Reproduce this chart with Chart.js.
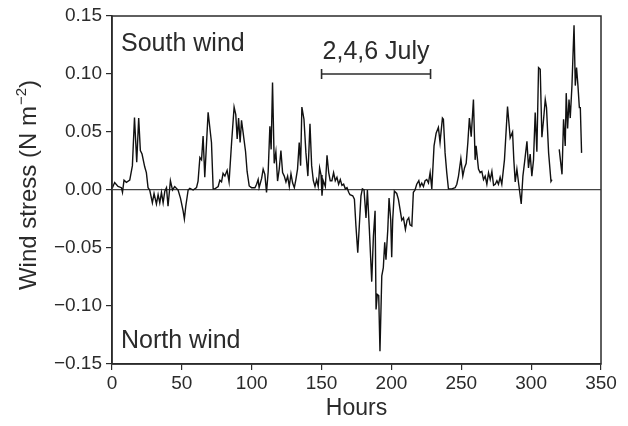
<!DOCTYPE html>
<html lang="en">
<head>
  <meta charset="UTF-8">
  <title>Wind stress</title>
  <script src="https://cdn.jsdelivr.net/npm/chart.js"></script>
  <style>
    body { margin: 0; background: #fff; }
    canvas { display: block; }
  </style>
</head>
<body>
<canvas id="grafica" width="628" height="426"></canvas>
<script>
// horas y tension del viento (N m-2); null = hueco
const horas = [
  0.3, 1.9, 4.3, 6.7, 7.5, 8.6, 10.3, 12.7, 14.6, 16.1, 17.7, 19.1, 20.3, 21.5, 23.4, 24.6, 25.8, 27.0,
  28.9, 30.1, 31.8, 33.0, 34.2, 35.4, 36.6, 37.8, 39.0, 40.1, 41.8, 43.3, 44.9, 47.3, 49.0, 50.9, 51.8, 52.8,
  54.5, 55.7, 58.1, 60.5, 61.6, 62.9, 64.1, 65.2, 66.4, 68.8, 71.2, 72.4, 73.6, 76.0, 77.2, 78.4, 79.5, 80.8,
  82.4, 83.8, 85.6, 87.4, 88.6, 89.6, 90.6, 91.7, 92.7, 93.9, 95.6, 96.7, 98.2, 99.9, 102.3, 103.5, 104.6,
  105.3, 107.1, 108.2, 109.4, 110.6, 111.8, 113.0, 113.9, 114.9, 116.1, 117.3, 118.5, 119.7, 120.9, 122.1,
  123.3, 124.5, 125.7, 126.9, 128.1, 129.3, 130.5, 131.6, 132.8, 134.0, 135.0, 135.9, 137.4, 138.8, 140.2,
  141.7, 142.9, 144.1, 145.3, 146.5, 147.6, 148.6, 149.6, 150.3, 151.2, 152.7, 153.9, 155.1, 156.2, 157.4,
  158.6, 159.8, 161.0, 162.2, 163.4, 164.6, 165.8, 167.0, 168.2, 169.4, 170.3, 172.3, 173.5, 174.6, 175.9,
  177.0, 178.2, 179.2, 180.4, 181.8, 182.8, 184.2, 185.9, 187.1, 188.3, 189.0, 189.9, 190.9, 191.8, 193.1,
  194.2, 195.2, 196.1, 197.4, 198.3, 199.5, 200.2, 200.9, 202.1, 203.8, 205.0, 206.2, 207.4, 208.6, 210.0,
  211.2, 212.4, 213.3, 214.6, 215.7, 216.9, 218.1, 219.6, 220.5, 221.7, 222.9, 224.1, 225.3, 226.5, 227.7,
  228.9, 230.5, 232.0, 233.6, 234.8, 236.5, 237.2, 238.4, 239.6, 240.8, 243.2, 245.6, 246.8, 248.0, 249.7,
  251.1, 252.3, 253.5, 254.7, 255.8, 257.1, 258.7, 259.9, 260.6, 262.3, 263.5, 264.7, 265.9, 267.1, 268.3,
  269.5, 270.7, 271.9, 273.1, 274.3, 275.5, 276.6, 277.8, 279.0, 280.9, 283.1, 285.0, 286.7, 287.6, 288.6,
  289.8, 291.0, 292.9, 294.1, 295.3, 297.0, 298.1, 299.3, 300.5, 301.7, 302.9, 304.1, 305.3, 306.5, 307.7,
  308.9, 310.1, 311.0, 312.5, 314.2, 314.9, 317.5, 320.1, 322.1, 323.2, 324.4, 325.1, 326.1, 327.1, 328.0,
  329.2, 330.7, 331.6, 332.5, 333.5, 334.5, 335.2, 336.1
];
const tension = [
  0.002, 0.0064, 0.003, 0.002, -0.002, 0.0085, 0.0066, 0.0085, 0.021, 0.0625, 0.024, 0.062, 0.034, 0.031, 0.02, 0.015, 0.002, 0.0,
  -0.011, -0.003, -0.012, -0.004, -0.011, -0.002, -0.011, -0.001, 0.002, -0.014, 0.008, 0.0, 0.003, 0.0, -0.007, -0.018, -0.025, -0.014,
  0.0, 0.0015, 0.0, 0.002, 0.0077, 0.028, 0.026, 0.0465, 0.011, 0.067, 0.041, 0.001, 0.001, 0.003, 0.0085, 0.007, 0.0143, 0.012,
  0.017, 0.007, 0.041, 0.0715, 0.065, 0.044, 0.062, 0.041, 0.06, 0.049, 0.033, 0.016, 0.0035, 0.002, 0.002, 0.005, 0.009,
  0.002, 0.01, 0.018, 0.0135, -0.002, 0.016, 0.055, 0.035, 0.0927, 0.023, 0.033, 0.0077, 0.018, 0.034, 0.015,
  0.012, 0.007, 0.012, 0.003, 0.014, 0.006, 0.002, 0.009, 0.018, 0.041, 0.021, 0.0715, 0.061, 0.032, 0.012,
  0.057, 0.021, 0.008, 0.003, 0.009, 0.003, 0.019, 0.013, -0.005, 0.008, 0.003, 0.03, 0.015, 0.008, 0.008,
  0.015, 0.008, 0.011, 0.005, 0.009, 0.004, 0.005, 0.001, 0.002, -0.002, -0.004, -0.005, -0.008, -0.031, -0.054,
  -0.031, -0.005, 0.001, 0.0, -0.024, 0.0, -0.034, -0.079, -0.04, -0.018, -0.103, -0.090, -0.091, -0.139, -0.074,
  -0.067, -0.045, -0.06, -0.034, -0.007, -0.026, -0.058, -0.026, -0.001, -0.003, -0.008, -0.017, -0.026, -0.024, -0.034,
  -0.026, -0.024, -0.03, -0.031, -0.002, 0.0, 0.005, 0.008, 0.003, 0.006, 0.003, 0.008, 0.009, 0.006, 0.015,
  0.001, 0.038, 0.049, 0.054, 0.041, 0.062, 0.061, 0.032, 0.015, 0.001, 0.001, 0.002, 0.005, 0.012, 0.027,
  0.012, 0.019, 0.023, 0.041, 0.062, 0.046, 0.078, 0.026, 0.038, 0.018, 0.015, 0.016, 0.009, 0.012, 0.005,
  0.015, 0.009, 0.016, 0.004, 0.005, 0.008, 0.005, 0.011, 0.005, 0.026, 0.072, 0.045, 0.05, 0.026, 0.007,
  0.018, 0.006, -0.012, 0.012, 0.024, 0.042, 0.019, 0.031, 0.012, 0.026, 0.0667, 0.033, 0.1055, 0.104, 0.0455,
  0.061, 0.078, 0.071, 0.032, 0.0075, 0.009, null, 0.035, 0.0135, 0.061, 0.038, 0.0835, 0.053, 0.078, 0.062,
  0.0897, 0.142, 0.09, 0.1055, 0.09, 0.071, 0.071, 0.032
];
// barra "2,4,6 July"
const julioHoras = [150, 228];
const julioValor = [0.1, 0.1];

const ticksX = [0, 50, 100, 150, 200, 250, 300, 350];
const ticksY = [-0.15, -0.10, -0.05, 0, 0.05, 0.10, 0.15];

const fuente = "'Liberation Sans', Arial, Helvetica, sans-serif";
const gris = '#2b2b2b';

const serie = horas.map((h, i) => ({ x: h, y: tension[i] }));
const barra = julioHoras.map((h, i) => ({ x: h, y: julioValor[i] }));

const etiquetas = {
  id: 'etiquetas',
  afterDraw(chart) {
    const { ctx, chartArea: a, scales } = chart;
    ctx.save();
    // marco completo
    ctx.strokeStyle = gris;
    ctx.lineWidth = 1.5;
    ctx.strokeRect(a.left, a.top, a.right - a.left, a.bottom - a.top);
    ctx.fillStyle = gris;
    ctx.font = '25px ' + fuente;
    ctx.textAlign = 'left';
    ctx.textBaseline = 'alphabetic';
    ctx.fillText('South wind', a.left + 9, a.top + 35);
    ctx.fillText('North wind', a.left + 9, a.bottom - 16);
    ctx.textAlign = 'center';
    const xm = scales.x.getPixelForValue((julioHoras[0] + julioHoras[1]) / 2);
    ctx.fillText('2,4,6 July', xm, scales.y.getPixelForValue(julioValor[0]) - 15);

    // titulo del eje y con superindice
    const grande = '24px ' + fuente, chico = '15px ' + fuente;
    const p1 = 'Wind stress (N m', sup = '\u22122', p3 = ')';
    ctx.font = grande; const w1 = ctx.measureText(p1).width, w3 = ctx.measureText(p3).width;
    ctx.font = chico; const w2 = ctx.measureText(sup).width;
    const total = w1 + w2 + w3 + 1;
    ctx.translate(36, (a.top + a.bottom) / 2 - 5);
    ctx.rotate(-Math.PI / 2);
    ctx.textAlign = 'left';
    let x = -total / 2;
    ctx.font = grande; ctx.fillText(p1, x, 0); x += w1 + 1;
    ctx.font = chico; ctx.fillText(sup, x, -10); x += w2;
    ctx.font = grande; ctx.fillText(p3, x, 0);
    ctx.restore();
  }
};

new Chart(document.getElementById('grafica'), {
  type: 'line',
  data: {
    datasets: [
      {
        data: serie,
        borderColor: '#111',
        borderWidth: 1.4,
        pointRadius: 0,
        tension: 0,
        spanGaps: false
      },
      {
        data: barra,
        borderColor: gris,
        borderWidth: 1.6,
        pointStyle: 'line',
        rotation: 90,
        pointRadius: 5,
        pointBorderWidth: 1.6,
        pointBorderColor: gris
      }
    ]
  },
  options: {
    responsive: false,
    animation: false,
    events: [],
    layout: { padding: { top: 16, right: 27, left: 0, bottom: 0 } },
    plugins: { legend: { display: false }, tooltip: { enabled: false } },
    scales: {
      x: {
        type: 'linear',
        min: 0, max: 350,
        afterBuildTicks: s => { s.ticks = ticksX.map(v => ({ value: v })); },
        afterFit: s => { s.height = 62; },
        border: { color: gris, width: 1.5 },
        grid: { drawOnChartArea: false, color: gris, tickLength: 6, lineWidth: 1.2 },
        ticks: { color: gris, font: { family: fuente, size: 19 }, padding: 2, maxRotation: 0 },
        title: { display: true, text: 'Hours', color: gris, font: { family: fuente, size: 23 }, padding: { top: 2 } }
      },
      y: {
        min: -0.15, max: 0.15,
        afterBuildTicks: s => { s.ticks = ticksY.map(v => ({ value: v })); },
        afterFit: s => { s.width = 112; },
        border: { color: gris, width: 1.5 },
        grid: {
          color: c => (c.tick && Math.abs(c.tick.value) < 1e-9) ? '#444' : 'transparent',
          tickColor: gris, tickLength: 6, lineWidth: 1.2
        },
        ticks: {
          color: gris, font: { family: fuente, size: 19 }, padding: 4,
          callback: v => (Math.abs(v) < 1e-9 ? '0.00' : v.toFixed(2).replace('-', '\u2212'))
        },
        title: { display: false }
      }
    }
  },
  plugins: [etiquetas]
});
</script>
</body>
</html>
